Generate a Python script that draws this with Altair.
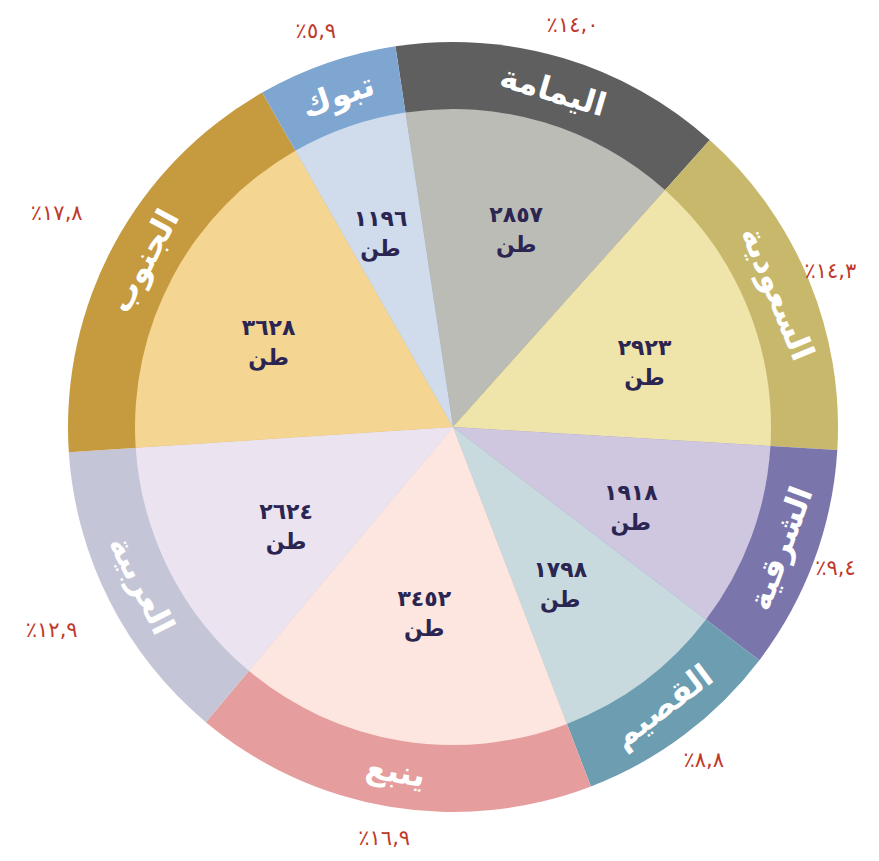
import math
import altair as alt
import pandas as pd

regions = ["اليمامة", "السعودية", "الشرقية", "القصيم", "ينبع", "العربية", "الجنوب", "تبوك"]
tons = [2857, 2923, 1918, 1798, 3452, 2624, 3628, 1196]
ton_labels = ["٢٨٥٧", "٢٩٢٣", "١٩١٨", "١٧٩٨", "٣٤٥٢", "٢٦٢٤", "٣٦٢٨", "١١٩٦"]
pct_labels = ["٪١٤,٠", "٪١٤,٣", "٪٩,٤", "٪٨,٨", "٪١٦,٩", "٪١٢,٩", "٪١٧,٨", "٪٥,٩"]
unit = "طن"

outer_colors = ["#5f5f5f", "#c8b86c", "#7a76ac", "#6d9db0", "#e59e9d", "#c4c5d6", "#c69a3e", "#7ea6d0"]
inner_colors = ["#bcbcb6", "#efe4a9", "#cfc6df", "#c8dade", "#fce6df", "#ebe4f0", "#f4d592", "#d0dcec"]

start_deg = -8.6
total = sum(tons)

df = pd.DataFrame({
    "idx": list(range(len(regions))),
    "region": regions,
    "tons": tons,
    "label": [f"{t}\n{unit}" for t in ton_labels],
    "pct": pct_labels,
})

s = math.radians(start_deg)
theta_scale = alt.Scale(domain=[0, total], range=[2 * math.pi + s, 4 * math.pi + s])

CX, CY = 445, 419
base = alt.Chart(df).transform_stack(
    stack="tons", as_=["t0", "t1"], groupby=[], sort=[alt.SortField("idx", order="ascending")]
).transform_calculate(
    tm="(datum.t0 + datum.t1) / 2",
    ang=f"({start_deg} + 360 * ((datum.t0 + datum.t1) / 2) / {total} + 360) % 360",
).transform_calculate(
    rot="(datum.ang > 90 && datum.ang < 270) ? (datum.ang + 180) % 360 : datum.ang",
    rv="198 + 24 * cos(datum.ang * PI / 180)",
    rp="(datum.ang > 200 && datum.ang < 330) ? 450 : ((datum.ang > 45 && datum.ang < 135) ? 408 : 418)",
).encode(x=alt.value(CX), y=alt.value(CY))

arc_enc = dict(theta=alt.Theta("t0:Q", scale=theta_scale), theta2="t1:Q")
txt_theta = alt.Theta("tm:Q", scale=theta_scale)

outer = base.mark_arc(outerRadius=385).encode(
    color=alt.Color("region:N", scale=alt.Scale(domain=regions, range=outer_colors), legend=None),
    **arc_enc,
)
inner = base.mark_arc(outerRadius=318).encode(
    fill=alt.Fill("region:N", scale=alt.Scale(domain=regions, range=inner_colors), legend=None),
    **arc_enc,
)

ring_text = base.mark_text(
    radius=350, font="DejaVu Sans", fontSize=32, fontWeight="bold", color="white"
).encode(theta=txt_theta, text="region:N", angle=alt.Angle("rot:Q", scale=None))

value_text = base.mark_text(
    font="DejaVu Sans", fontSize=22, fontWeight="bold", color="#2b2552",
    lineBreak="\n", lineHeight=30
).encode(theta=txt_theta, radius=alt.Radius("rv:Q", scale=None), text="label:N")

pct_text = base.mark_text(
    font="DejaVu Sans", fontSize=21, color="#c0392b"
).encode(theta=txt_theta, radius=alt.Radius("rp:Q", scale=None), text="pct:N")

chart = alt.layer(outer, inner, ring_text, value_text, pct_text).resolve_scale(
    color="independent"
).properties(
    width=863, height=845, padding=0,
    autosize=alt.AutoSizeParams(type="none"),
    background="white",
).configure_view(stroke=None)

chart.save("out.html", embed_options={"renderer": "svg", "actions": False})
